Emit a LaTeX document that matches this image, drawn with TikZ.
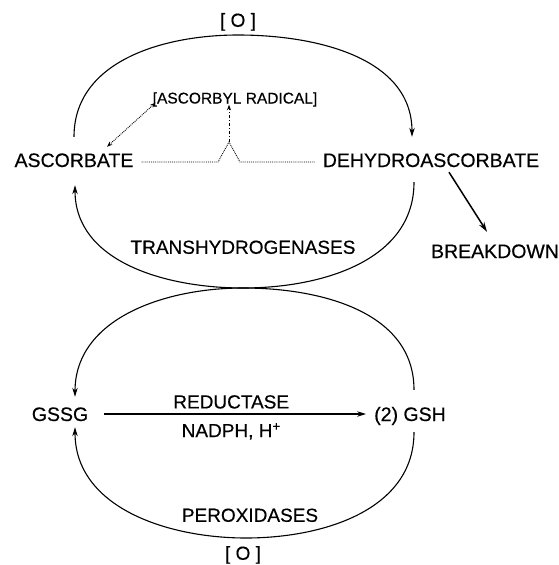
\documentclass[tikz,border=0pt]{standalone}
\usepackage{fontspec}
\setmainfont[FakeBold=0.4]{Liberation Sans}
\usetikzlibrary{positioning, arrows.meta}
\tikzset{
  metab/.style={
    font=\fontsize{19.5}{22}\selectfont,
    inner sep=1pt, text height=14pt, text depth=0pt
  },
  enzlabel/.style={
    font=\fontsize{19}{22}\selectfont,
    inner sep=1pt, text height=13.6pt, text depth=0pt
  },
  radlabel/.style={
    font=\fontsize{15.5}{18}\selectfont,
    inner sep=1pt, text height=11pt, text depth=0pt
  },
  cycline/.style={line width=1pt},
  cycarrow/.style={
    -{Stealth[length=9pt, width=5.5pt]}, line width=1.1pt
  },
  radarrow/.style={
    {Stealth[length=5.5pt, width=4pt]}-{Stealth[length=5.5pt, width=4pt]},
    line width=0.9pt, densely dotted
  },
  radlink/.style={line width=0.9pt, densely dotted},
}

\begin{document}
\begin{tikzpicture}[x=1pt, y=-1pt]
  \useasboundingbox (0,0) rectangle (559,565);

  % Metabolites
  \node[metab] (asc)  at (74,160)  {ASCORBATE};
  \node[metab] (dha)  at (431,160) {DEHYDROASCORBATE};
  \node[metab] (brk)  at (495,251) {BREAKDOWN};
  \node[metab] (gssg) at (60,414)  {GSSG};
  \node[metab] (gsh)  at (410,414) {(2) GSH};
  \node[radlabel] (rad) at (235,98) {[ASCORBYL RADICAL]};

  % Enzymes and oxidant
  \node[enzlabel] (otop)  at (238,20)  {[ O ]};
  \node[enzlabel] (trans) at (243,247) {TRANSHYDROGENASES};
  \node[enzlabel] (perox) at (250,515) {PEROXIDASES};
  \node[enzlabel] (obot)  at (243,553) {[ O ]};

  % Turning points of the loops
  \coordinate (apex) at (238,35);
  \coordinate (neck) at (243,288);
  \coordinate (base) at (246,538);
  \coordinate (peak) at (229,142);

  % Ascorbate -> dehydroascorbate
  \draw[cycarrow] ([yshift=15pt]asc.north) to[out=90, in=180] (apex)
        to[out=0, in=90] ([xshift=-19pt, yshift=15pt]dha.north);

  % Dehydroascorbate -> ascorbate
  \draw[cycarrow] ([xshift=-17pt, yshift=-14pt]dha.south) to[out=-90, in=0] (neck)
        to[out=180, in=-90] ([xshift=1pt, yshift=-17pt]asc.south);

  % GSH -> GSSG
  \draw[cycarrow] ([xshift=4pt, yshift=16pt]gsh.north) to[out=90, in=0] (neck)
        to[out=180, in=90] ([xshift=15pt, yshift=9pt]gssg.north);

  % GSH -> GSSG (peroxidases)
  \draw[cycarrow] ([xshift=4pt, yshift=-10pt]gsh.south) to[out=-90, in=0] (base)
        to[out=180, in=-90] ([xshift=15pt, yshift=-5pt]gssg.south);

  % Reductase
  \draw[cycarrow, shorten <=15pt, shorten >=7pt] (gssg.east) -- (gsh.west)
        node[enzlabel, midway, above=4pt] {REDUCTASE}
        node[enzlabel, midway, below=8pt] {NADPH, H\textsuperscript{+}};

  % Breakdown
  \draw[-{Stealth[length=10pt, width=6pt]}, line width=1.5pt]
        ([xshift=18pt, yshift=-4pt]dha.south) -- ([xshift=-8pt, yshift=11pt]brk.north);

  % Ascorbyl radical
  \draw[radarrow] ([xshift=33pt, yshift=5pt]asc.north) -- ([xshift=4pt, yshift=2pt]rad.south west);
  \draw[radlink] ([xshift=7pt, yshift=-2pt]asc.east) -- ([xshift=-11pt, yshift=-20pt]peak)
        -- (peak) -- ([xshift=11pt, yshift=-20pt]peak) -- ([xshift=-7pt, yshift=-2pt]dha.west);
  \draw[-{Stealth[length=5.5pt, width=4pt]}, line width=0.9pt, dash dot]
        (peak) -- (peak |- rad.south);
\end{tikzpicture}
\end{document}
